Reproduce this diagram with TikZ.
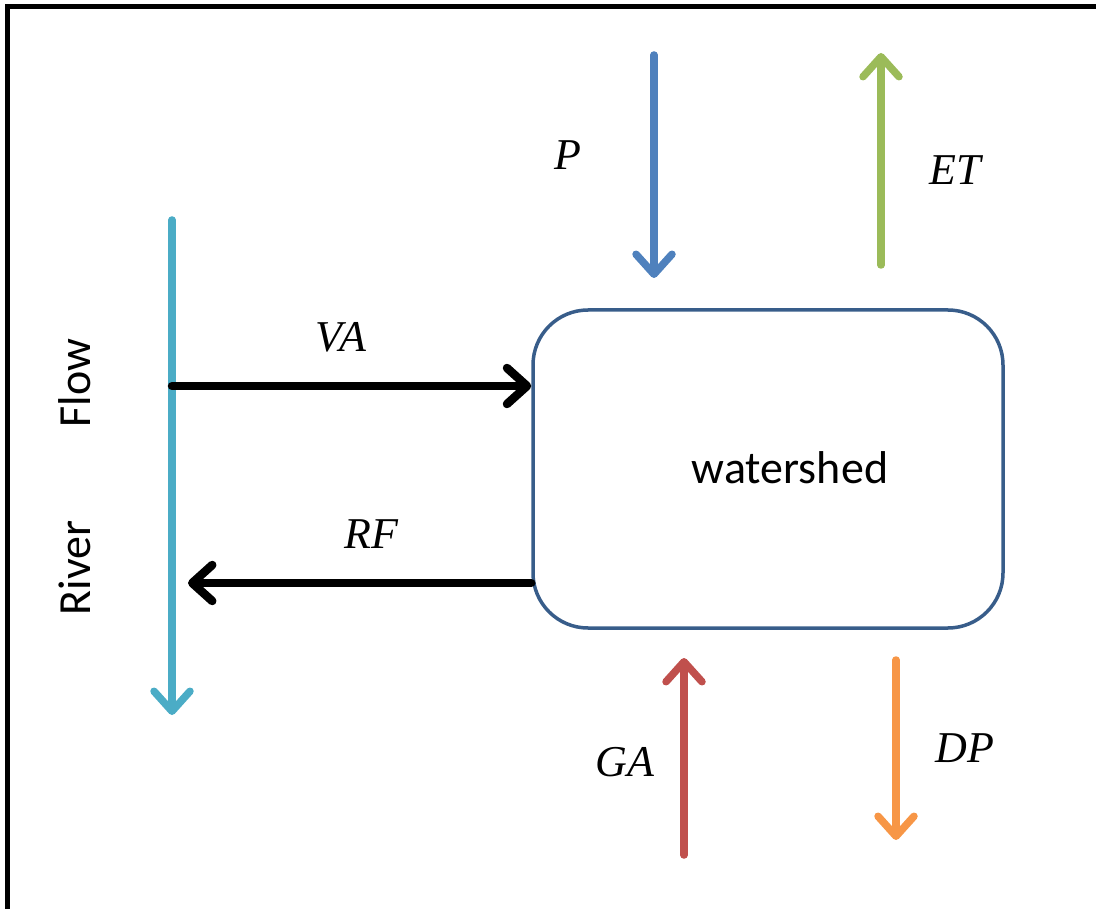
\documentclass[tikz,border=0pt]{standalone}
\usepackage{fontspec}
\setmainfont{Carlito}
\newfontfamily\symfont{Liberation Serif}
\usetikzlibrary{arrows.meta}

\definecolor{boxline}{HTML}{385D8A}
\definecolor{river}{HTML}{4BACC6}
\definecolor{precip}{HTML}{4F81BD}
\definecolor{evapo}{HTML}{9BBB59}
\definecolor{ground}{HTML}{C0504D}
\definecolor{deep}{HTML}{F79646}

\tikzset{
  flux/.style={line width=7.5pt, line cap=round,
    -{Straight Barb[length=20pt,width=36pt,round]}},
  exch/.style={flux, line width=8.5pt, black},
  sym/.style={font=\symfont\itshape\fontsize{44}{44}\selectfont, inner sep=0pt},
  word/.style={font=\fontsize{46}{46}\selectfont, inner sep=0pt},
  basin/.style={draw=boxline, line width=3.5pt, rounded corners=55pt,
    minimum width=470pt, minimum height=318pt, inner sep=0pt}
}

\begin{document}
\begin{tikzpicture}[x=1pt,y=-1pt]
  \useasboundingbox (0,0) rectangle (1096,909);

  % outer frame (top and left edges only)
  \draw[line width=5pt] (7.5,909) -- (7.5,7) -- (1096,7);

  % watershed storage
  \node[basin] (ws) at (768,469) {};
  \node[word] (wstext) at (790,468) {watershed};

  % river channel
  \coordinate (rtop) at (172,220);
  \coordinate (rbot) at (172,715);
  \draw[flux, river] (rtop) -- (rbot);
  \node[word, rotate=90] (flow) at (75,383) {Flow};
  \node[word, rotate=90] (riv) at (75,568) {River};

  % exchanges between river and watershed
  \coordinate (va0) at (172,386);
  \coordinate (rf1) at (188,583);
  \draw[exch] (va0) -- (va0 -| ws.west);
  \draw[exch] (ws.west |- rf1) -- (rf1);
  \node[sym] (va) at (341,337) {VA};
  \node[sym] (rf) at (371,534) {RF};

  % vertical fluxes
  \coordinate (p0) at (654,55);
  \coordinate (p1) at (654,278);
  \draw[flux, precip] (p0) -- (p1);
  \node[sym] (pl) at (568,155) {P};

  \coordinate (et0) at (881,265);
  \coordinate (et1) at (881,53);
  \draw[flux, evapo] (et0) -- (et1);
  \node[sym] (etl) at (955,170) {ET};

  \coordinate (ga0) at (684,855);
  \coordinate (ga1) at (684,658);
  \draw[flux, ground] (ga0) -- (ga1);
  \node[sym] (gal) at (625,762) {GA};

  \coordinate (dp0) at (896,660);
  \coordinate (dp1) at (896,840);
  \draw[flux, deep] (dp0) -- (dp1);
  \node[sym] (dpl) at (965,748) {DP};
\end{tikzpicture}
\end{document}
